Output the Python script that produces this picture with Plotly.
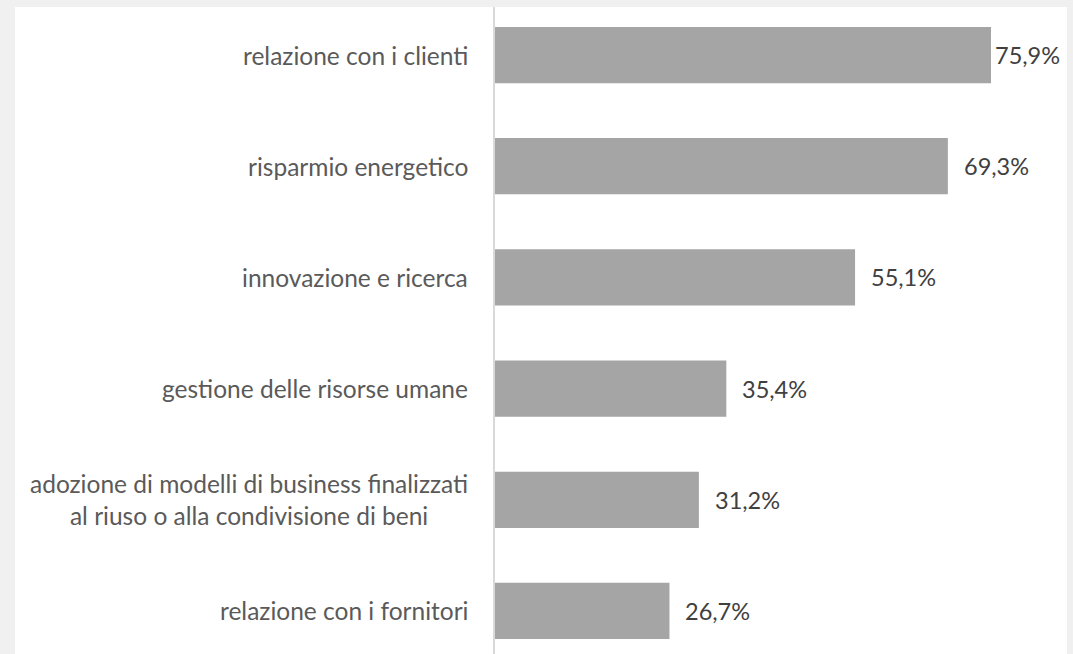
import plotly.graph_objects as go

categories = [
    "relazione con i clienti",
    "risparmio energetico",
    "innovazione e ricerca",
    "gestione delle risorse umane",
    "adozione di modelli di business finalizzati<br>al riuso o alla condivisione di beni",
    "relazione con i fornitori",
]
values = [75.9, 69.3, 55.1, 35.4, 31.2, 26.7]

W, H = 1073, 654
L, R, T, B = 495, 6, 7, 0
FONT = "Lato"

fig = go.Figure()
fig.add_trace(go.Bar(
    x=values,
    y=list(range(len(categories))),
    orientation="h",
    marker=dict(color="#a5a5a5", line=dict(width=0)),
    hoverinfo="skip",
))

for i, c in enumerate(categories):
    fig.add_annotation(
        x=0, y=i, xref="paper", yref="y",
        text=c, showarrow=False, xanchor="right", yanchor="middle",
        align="center", xshift=-25,
        font=dict(family=FONT, size=24.5, color="#5a5a5a"),
    )

for i, v in enumerate(values):
    fig.add_annotation(
        x=v, y=i, xref="x", yref="y",
        text=f"{v:.1f}%".replace(".", ","), showarrow=False,
        xanchor="left", yanchor="middle",
        xshift=2 if i == 0 else 14,
        font=dict(family=FONT, size=23.5, color="#404040"),
    )

fig.add_shape(
    type="rect", xref="paper", yref="paper",
    x0=(15 - L) / (W - L - R), x1=1.0, y0=0, y1=1,
    fillcolor="white", line=dict(width=0), layer="below",
)

fig.update_layout(
    width=W, height=H,
    margin=dict(l=L, r=R, t=T, b=B, pad=0),
    paper_bgcolor="#f0f0f0",
    plot_bgcolor="white",
    showlegend=False,
    bargap=0.494,
    xaxis=dict(range=[0, 87.53], visible=False, fixedrange=True),
    yaxis=dict(
        range=[5.387, -0.432], showticklabels=False, showgrid=False,
        zeroline=False, showline=True, linecolor="#d9d9d9", linewidth=1.5,
        ticks="", fixedrange=True,
    ),
)

fig.write_html(
    "out.html",
    config={"displayModeBar": False},
    post_script="document.body.style.margin='0px';",
)
